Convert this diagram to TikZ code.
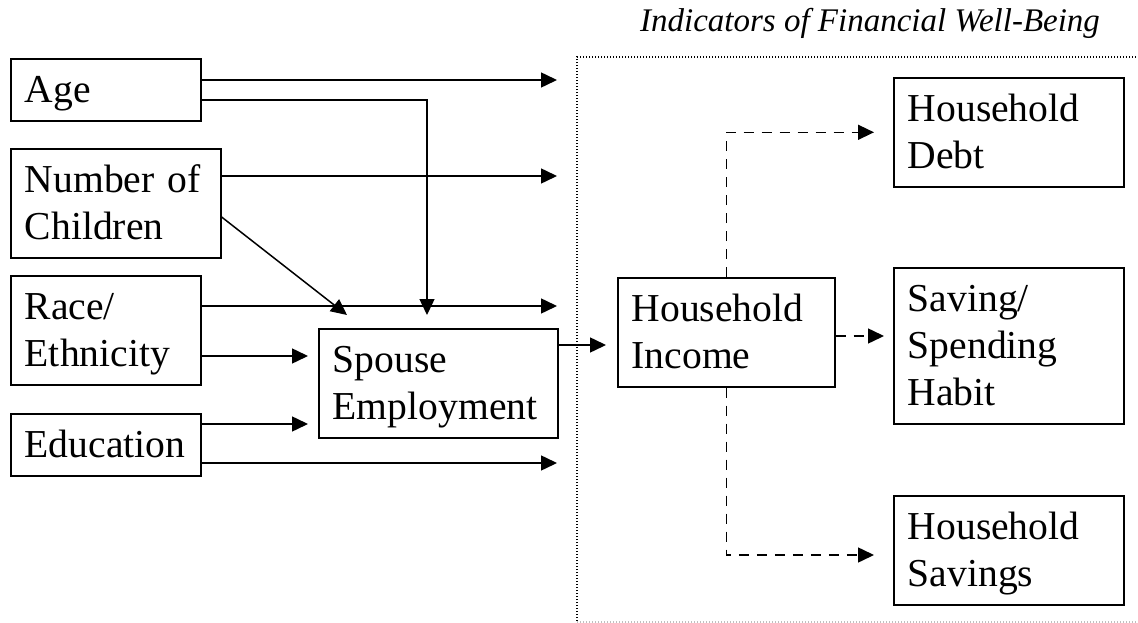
\documentclass[tikz,border=0pt]{standalone}
\usepackage{fontspec}
\setmainfont{Liberation Serif}
\usetikzlibrary{arrows.meta,calc}
\newcommand{\ms}{\rule[-11pt]{0pt}{47pt}}
\begin{document}
\begin{tikzpicture}[x=1pt,y=-1pt,
  box/.style={draw,line width=1.6pt,anchor=north west,align=left,inner xsep=14pt,inner ysep=7.5pt,font=\fontsize{39.6pt}{47pt}\selectfont},
  conn/.style={line width=1.5pt,-{Triangle[length=16pt,width=15pt]}},
  dconn/.style={conn,dash pattern=on 10pt off 8pt},
  frameline/.style={line width=1.3pt,dash pattern=on 1.3pt off 1.7pt}]
\useasboundingbox (0,0) rectangle (1138,623);

% title
\node[font=\itshape\fontsize{33pt}{40pt}\selectfont,anchor=base,inner sep=0pt] (title) at (870,32) {Indicators of Financial Well-Being};

% dotted frame
\draw[frameline] (577,621) -- (577,57) -- (1138,57);
\draw[frameline,black!25] (577,622) -- (1138,622);

% boxes
\node[box,text width=162pt] (Age) at (10,58) {\ms Age};
\node[box,text width=182pt] (NoC) at (10,148) {\ms Number of\\\ms Children};
\node[box,text width=162pt] (Race) at (10,275) {\ms Race/\\\ms Ethnicity};
\node[box,text width=162pt] (Edu) at (10,413) {\ms Education};
\node[box,text width=211pt] (Spouse) at (318,328) {\ms Spouse\\\ms Employment};
\node[box,text width=189pt] (Income) at (617,277) {\ms Household\\\ms Income};
\node[box,text width=202pt] (Debt) at (893,77) {\ms Household\\\ms Debt};
\node[box,text width=202pt] (Saving) at (893,267) {\ms Saving/\\\ms Spending\\\ms Habit};
\node[box,text width=202pt] (Savings) at (893,495) {\ms Household\\\ms Savings};

% free ends and routing points
\coordinate (tA) at (557,80);
\coordinate (tN) at (557,176);
\coordinate (tR) at (557,306);
\coordinate (tE) at (557,463);
\coordinate (ageb) at (427,100);
\coordinate (nd) at (220,217);
\coordinate (tD) at (347,315);
\coordinate (rs) at (0,356);
\coordinate (es) at (0,424);
\coordinate (si) at (0,345);
\coordinate (is) at (0,336);
\coordinate (iv) at (0,555);

% connectors
\draw[conn] (Age.east |- tA) -- (tA);
\draw[conn] (Age.east |- ageb) -- (ageb) -- ([yshift=13pt]Spouse.north -| ageb);
\draw[conn] (NoC.east |- tN) -- (tN);
\draw[conn] (NoC.east |- nd) -- (tD);
\draw[conn] (Race.east |- tR) -- (tR);
\draw[conn] (Race.east |- rs) -- ([xshift=-10pt]Spouse.west |- rs);
\draw[conn] (Edu.east |- es) -- ([xshift=-10pt]Spouse.west |- es);
\draw[conn] (Edu.east |- tE) -- (tE);
\draw[conn] (Spouse.east |- si) -- ([xshift=-11pt]Income.west |- si);
\draw[dconn] (Income.north) |- ([xshift=-19pt]Debt.west);
\draw[dconn] (Income.east |- is) -- ([xshift=-9pt]Saving.west |- is);
\draw[dconn] (Income.south) |- ([xshift=-19pt]Savings.west |- iv);
\end{tikzpicture}
\end{document}
